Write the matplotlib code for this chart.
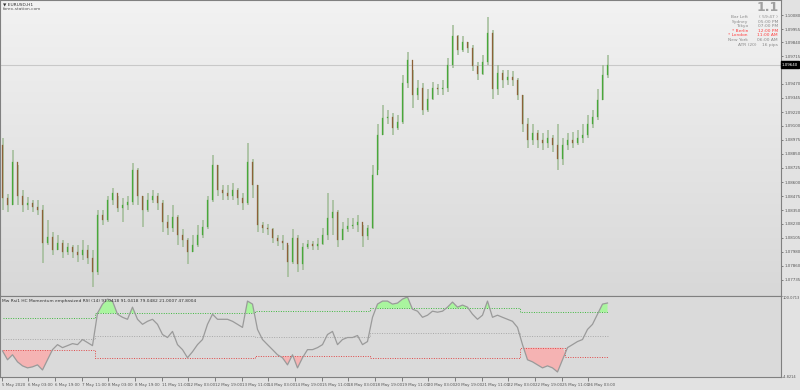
import numpy as np
import matplotlib.pyplot as plt
from matplotlib.colors import LinearSegmentedColormap

# EURUSD H1 (condensed: one candle = 3 hours)
first_open = 1.0893
closes = [1.0846, 1.0840, 1.0878, 1.0848, 1.0840, 1.0841, 1.0838, 1.0835, 1.0806, 1.0811,
          1.0800, 1.0806, 1.0798, 1.0802, 1.0798, 1.0795, 1.0800, 1.0793, 1.0780, 1.0831,
          1.0826, 1.0844, 1.0850, 1.0837, 1.0840, 1.0842, 1.0871, 1.0848, 1.0835, 1.0844,
          1.0848, 1.0841, 1.0825, 1.0819, 1.0829, 1.0813, 1.0809, 1.0798, 1.0804, 1.0813,
          1.0820, 1.0844, 1.0875, 1.0853, 1.0850, 1.0848, 1.0853, 1.0846, 1.0841, 1.0878,
          1.0857, 1.0822, 1.0819, 1.0818, 1.0810, 1.0808, 1.0806, 1.0789, 1.0810, 1.0787,
          1.0802, 1.0805, 1.0803, 1.0805, 1.0813, 1.0828, 1.0833, 1.0809, 1.0818, 1.0821,
          1.0822, 1.0825, 1.0812, 1.0819, 1.0866, 1.0902, 1.0917, 1.0918, 1.0908, 1.0913,
          1.0948, 1.0968, 1.0937, 1.0943, 1.0924, 1.0934, 1.0943, 1.0942, 1.0943, 1.0964,
          1.0989, 1.0977, 1.0984, 1.0979, 1.0963, 1.0956, 1.0966, 1.0992, 1.0942, 1.0957,
          1.0950, 1.0953, 1.0950, 1.0937, 1.0911, 1.0897, 1.0903, 1.0897, 1.0895, 1.0899,
          1.0893, 1.0880, 1.0893, 1.0897, 1.0895, 1.0899, 1.0902, 1.0911, 1.0918, 1.0933,
          1.0955, 1.0964]
highs = [1.0899, 1.0849, 1.0888, 1.0875, 1.0853, 1.0847, 1.0844, 1.0844, 1.0840, 1.0826,
         1.0816, 1.0813, 1.0809, 1.0806, 1.0804, 1.0804, 1.0809, 1.0804, 1.0800, 1.0835,
         1.0835, 1.0848, 1.0855, 1.0848, 1.0846, 1.0848, 1.0877, 1.0872, 1.0848, 1.0850,
         1.0853, 1.0850, 1.0844, 1.0831, 1.0840, 1.0831, 1.0818, 1.0810, 1.0813, 1.0822,
         1.0826, 1.0848, 1.0884, 1.0875, 1.0857, 1.0857, 1.0859, 1.0855, 1.0850, 1.0895,
         1.0880, 1.0857, 1.0825, 1.0823, 1.0819, 1.0813, 1.0813, 1.0804, 1.0818, 1.0813,
         1.0806, 1.0809, 1.0808, 1.0810, 1.0819, 1.0850, 1.0844, 1.0835, 1.0825, 1.0828,
         1.0828, 1.0831, 1.0822, 1.0822, 1.0875, 1.0911, 1.0928, 1.0924, 1.0921, 1.0919,
         1.0955, 1.0975, 1.0959, 1.0950, 1.0948, 1.0942, 1.0949, 1.0947, 1.0950, 1.0970,
         1.0999, 1.0990, 1.0989, 1.0984, 1.0981, 1.0966, 1.0973, 1.1006, 1.0995, 1.0964,
         1.0959, 1.0959, 1.0958, 1.0952, 1.0937, 1.0917, 1.0911, 1.0906, 1.0903, 1.0906,
         1.0902, 1.0911, 1.0899, 1.0903, 1.0904, 1.0906, 1.0911, 1.0919, 1.0924, 1.0942,
         1.0964, 1.0973]
lows = [1.0835, 1.0833, 1.0840, 1.0840, 1.0833, 1.0835, 1.0833, 1.0831, 1.0788, 1.0804,
        1.0795, 1.0800, 1.0793, 1.0795, 1.0793, 1.0789, 1.0791, 1.0787, 1.0767, 1.0778,
        1.0822, 1.0825, 1.0840, 1.0833, 1.0825, 1.0835, 1.0840, 1.0840, 1.0820, 1.0833,
        1.0841, 1.0835, 1.0816, 1.0813, 1.0816, 1.0804, 1.0802, 1.0787, 1.0798, 1.0802,
        1.0810, 1.0818, 1.0842, 1.0848, 1.0844, 1.0844, 1.0844, 1.0840, 1.0835, 1.0840,
        1.0846, 1.0816, 1.0815, 1.0813, 1.0806, 1.0803, 1.0800, 1.0776, 1.0787, 1.0780,
        1.0782, 1.0801, 1.0800, 1.0800, 1.0804, 1.0809, 1.0813, 1.0802, 1.0809, 1.0816,
        1.0818, 1.0816, 1.0802, 1.0809, 1.0818, 1.0871, 1.0902, 1.0911, 1.0902, 1.0906,
        1.0911, 1.0943, 1.0926, 1.0933, 1.0919, 1.0922, 1.0933, 1.0937, 1.0937, 1.0940,
        1.0961, 1.0973, 1.0975, 1.0974, 1.0958, 1.0950, 1.0955, 1.0964, 1.0934, 1.0937,
        1.0943, 1.0946, 1.0945, 1.0933, 1.0904, 1.0890, 1.0893, 1.0890, 1.0888, 1.0890,
        1.0887, 1.0871, 1.0875, 1.0888, 1.0890, 1.0893, 1.0895, 1.0899, 1.0908, 1.0915,
        1.0933, 1.0952]

# momentum emphasized RSI and its adaptive levels
rsi = [29.0, 17.5, 24.0, 14.8, 9.6, 7.0, 8.3, 10.9, 4.3, 17.5,
       30.6, 37.1, 33.2, 35.8, 38.4, 37.1, 43.7, 39.8, 35.8, 77.8,
       89.6, 96.1, 93.5, 76.5, 72.5, 69.9, 85.6, 69.9, 63.4, 67.3,
       69.9, 63.4, 50.2, 46.3, 54.2, 37.1, 30.6, 20.1, 27.9, 37.1,
       43.7, 63.4, 76.5, 69.9, 69.9, 69.9, 67.3, 63.4, 59.4, 93.5,
       89.6, 56.8, 43.7, 37.1, 30.6, 24.0, 20.1, 10.9, 24.0, 7.0,
       20.1, 30.6, 30.6, 33.2, 37.1, 50.2, 54.2, 37.1, 43.7, 46.3,
       46.3, 48.9, 37.1, 41.1, 72.5, 89.6, 93.5, 93.5, 89.6, 90.9,
       96.1, 98.8, 83.0, 80.4, 72.5, 75.2, 80.4, 79.1, 80.4, 85.6,
       92.2, 85.6, 88.3, 85.6, 76.5, 69.9, 75.2, 93.5, 72.5, 75.2,
       72.5, 69.9, 67.3, 59.4, 37.1, 17.5, 14.8, 10.9, 7.0, 9.6,
       7.0, 1.7, 17.5, 33.2, 37.1, 41.1, 43.7, 56.8, 63.4, 76.5,
       89.6, 91.0]
level_runs = [19, 32, 23, 30, 9, 9]
upper_levels = [72.0, 78.0, 80.0, 84.0, 79.0, 79.05]
mid_levels = [45.0, 48.0, 47.0, 52.0, 47.8, 47.8]
lower_levels = [30.0, 20.0, 22.0, 20.0, 33.0, 21.0]

price_ticks = [1.10080, 1.09955, 1.09840, 1.09715, 1.09470, 1.09345, 1.09220, 1.09100,
               1.08975, 1.08850, 1.08725, 1.08600, 1.08475, 1.08350, 1.08230, 1.08105,
               1.07980, 1.07860, 1.07735]
last_price = 1.09640
date_labels = ['5 May 2020', '6 May 03:00', '6 May 19:00', '7 May 11:00', '8 May 03:00',
               '8 May 19:00', '11 May 11:00', '12 May 03:00', '12 May 19:00', '13 May 11:00',
               '14 May 03:00', '14 May 19:00', '15 May 11:00', '18 May 03:00', '18 May 19:00',
               '19 May 11:00', '20 May 03:00', '20 May 19:00', '21 May 11:00', '22 May 03:00',
               '22 May 19:00', '25 May 11:00', '26 May 03:00']
hours_per_candle = 3
label_every_hours = 16

closes = np.array(closes)
opens = np.concatenate([[first_open], closes[:-1]])
highs = np.array(highs)
lows = np.array(lows)
x = np.arange(len(closes))
rsi = np.array(rsi)
upper = np.repeat(upper_levels, level_runs)
mid = np.repeat(mid_levels, level_runs)
lower = np.repeat(lower_levels, level_runs)

fs = 3.2
fs_axis = 2.9
W = 781 / 800
XMAX = 155.7
fig = plt.figure(figsize=(8, 3.9), dpi=100, facecolor='#e2e2e2')
ax = fig.add_axes([0, 94 / 390, W, 296 / 390])
axi = fig.add_axes([0, 13 / 390, W, 81 / 390])

# background gradient of the price window
cmap = LinearSegmentedColormap.from_list('bg', ['#d8d8d8', '#f2f2f2'])
ax.imshow(np.linspace(0, 1, 100).reshape(-1, 1)[::-1], extent=[0, 1, 0, 1],
          transform=ax.transAxes, cmap=cmap, aspect='auto', zorder=0)

up = closes >= opens
body_col = np.where(up, '#48a83a', '#8c6238')
ax.vlines(x, lows, highs, color='#a0bb96', lw=1.1, zorder=2)
ax.bar(x, closes - opens, bottom=opens, width=0.34, color=body_col,
       edgecolor=body_col, lw=0.2, zorder=3)
ax.axhline(last_price, color='#c8c8c8', lw=0.8, zorder=1)

ax.set_xlim(-0.5, XMAX)
ax.set_ylim(1.07590, 1.10213)
ax.yaxis.tick_right()
ax.set_yticks(price_ticks)
ax.set_yticklabels(['%.5f' % t for t in price_ticks])
ax.tick_params(axis='y', labelsize=fs_axis, colors='#555555', length=1.5, width=0.5, pad=0.8)
ax.set_xticks([])
for s in ax.spines.values():
    s.set_color('#808080')
    s.set_linewidth(0.8)
ax.text(1.001, (last_price - 1.07590) / (1.10213 - 1.07590), '%.5f' % last_price,
        transform=ax.transAxes, fontsize=fs_axis, color='white', va='center', ha='left',
        bbox=dict(boxstyle='square,pad=0.3', fc='black', ec='black'))

ax.text(0.004, 0.993, '\u25bc EURUSD,H1', transform=ax.transAxes, fontsize=fs,
        color='#333333', va='top')
ax.text(0.004, 0.976, 'forex-station.com', transform=ax.transAxes, fontsize=fs,
        color='#555555', va='top')
ax.text(0.997, 0.995, '1.1', transform=ax.transAxes, fontsize=9, color='#a0a0a0',
        fontweight='bold', va='top', ha='right')
info = [('Bar Left', '( 59:47 )', '#8a8a8a'), ('Sydney', '05:00 PM', '#8a8a8a'),
        ('Tokyo', '07:00 PM', '#8a8a8a'), ('* Berlin', '12:00 PM', '#ff4040'),
        ('* London', '11:00 AM', '#ff4040'), ('New York', '06:00 AM', '#8a8a8a')]
for k, (name, val, c) in enumerate(info):
    yy = 1 - (17 + k * 4.6) / 296
    ax.text(748 / 781, yy, name, transform=ax.transAxes, fontsize=fs, color=c, ha='right', va='center')
    ax.text(778 / 781, yy, val, transform=ax.transAxes, fontsize=fs, color=c, ha='right', va='center')
ax.text(778 / 781, 1 - (17 + 6 * 4.6) / 296, 'ATR (20)    16 pips', transform=ax.transAxes,
        fontsize=fs, color='#8a8a8a', ha='right', va='center')

# indicator window
axi.set_facecolor('#dadada')
axi.fill_between(x, rsi, upper, where=rsi > upper, interpolate=True, color='#a9f59e', lw=0)
axi.fill_between(x, rsi, lower, where=rsi < lower, interpolate=True, color='#f5b3b3', lw=0)
axi.step(x, upper, where='mid', color='#3db83d', lw=0.7, ls=(0, (1, 1.5)))
axi.step(x, mid, where='mid', color='#a8a8a8', lw=0.7, ls=(0, (1, 1.5)))
axi.step(x, lower, where='mid', color='#e04848', lw=0.7, ls=(0, (1, 1.5)))
axi.plot(x, rsi, color='#9a9a9a', lw=0.9)
axi.set_xlim(-0.5, XMAX)
axi.set_ylim(-4.8214, 100.0713)
axi.yaxis.tick_right()
axi.set_yticks([100.0713, -4.8214])
axi.set_yticklabels(['100.0713', '-4.8214'])
axi.tick_params(axis='y', labelsize=2.6, colors='#555555', length=1.0, width=0.5, pad=0.5)
axi.get_yticklabels()[0].set_va('top')
ticks = [k * label_every_hours / hours_per_candle - 0.16 for k in range(len(date_labels))]
axi.set_xticks(ticks)
axi.set_xticklabels(date_labels, ha='left')
axi.tick_params(axis='x', labelsize=fs_axis, colors='#555555', length=3, width=0.5, pad=1)
for s in axi.spines.values():
    s.set_color('#808080')
    s.set_linewidth(0.8)
axi.text(0.003, 0.965, 'Mw Rsi1 HC Momentum emphasized RSI (14) 91.0418 91.0418 79.0482 21.0007 47.8004',
         transform=axi.transAxes, fontsize=fs, color='#333333', va='top')

fig.savefig('out.png', dpi=100, facecolor=fig.get_facecolor())
